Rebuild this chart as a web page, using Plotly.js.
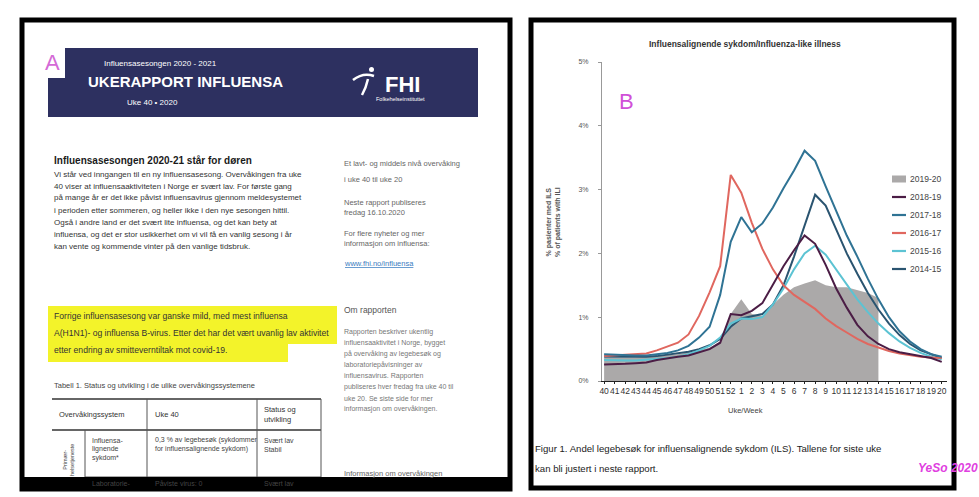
<!DOCTYPE html>
<html><head><meta charset="utf-8">
<script src="https://cdn.plot.ly/plotly-3.0.1.min.js"></script>
<style>html,body{margin:0;padding:0;background:#fff;}#chart{width:979px;height:497px;}</style>
</head><body><div id="chart"></div>
<script>
// ---------- DATA ----------
const weeks = ['40','41','42','43','44','45','46','47','48','49','50','51','52',
  '1','2','3','4','5','6','7','8','9','10','11','12','13','14','15','16','17','18','19','20'];
const seasonNames = ['2019-20','2018-19','2017-18','2016-17','2015-16','2014-15'];
const seasonColors = ['#aba9a9','#4b1d45','#2f7394','#e0675f','#5cc3d3','#2a5470'];
// % of patients with ILI, weeks 40..20
const ili2019_20 = [0.36,0.36,0.37,0.37,0.38,0.39,0.40,0.42,0.45,0.48,0.52,0.62,1.05,1.28,1.05,1.02,
  1.20,1.35,1.47,1.53,1.58,1.50,1.47,1.47,1.42,1.38,1.30];
const ili2018_19 = [0.26,0.26,0.27,0.28,0.29,0.33,0.36,0.38,0.40,0.45,0.50,0.60,1.05,1.03,1.10,1.22,
  1.50,1.80,2.05,2.28,2.15,1.82,1.45,1.15,0.88,0.70,0.58,0.50,0.45,0.42,0.38,0.36,0.30];
const ili2017_18 = [0.42,0.41,0.40,0.40,0.40,0.42,0.44,0.48,0.55,0.68,0.85,1.35,2.18,2.57,2.33,2.47,
  2.72,3.02,3.30,3.61,3.45,3.05,2.65,2.28,1.95,1.60,1.28,1.00,0.78,0.62,0.50,0.42,0.38];
const ili2016_17 = [0.39,0.40,0.41,0.42,0.43,0.48,0.54,0.60,0.73,1.02,1.39,1.80,3.23,2.95,2.48,2.07,
  1.75,1.50,1.35,1.24,1.13,0.98,0.86,0.76,0.66,0.58,0.52,0.47,0.43,0.40,0.38,0.37,0.36];
const ili2015_16 = [0.33,0.32,0.32,0.32,0.33,0.34,0.36,0.38,0.42,0.48,0.55,0.68,0.90,0.98,0.97,1.00,
  1.20,1.45,1.75,2.00,2.12,1.98,1.75,1.50,1.28,1.08,0.90,0.75,0.62,0.52,0.44,0.38,0.34];
const ili2014_15 = [0.38,0.38,0.37,0.37,0.38,0.39,0.41,0.43,0.46,0.50,0.56,0.66,0.85,0.98,1.02,1.05,
  1.20,1.50,1.95,2.45,2.92,2.75,2.38,2.00,1.68,1.38,1.12,0.90,0.72,0.58,0.48,0.42,0.36];
const seasonValues = [ili2019_20, ili2018_19, ili2017_18, ili2016_17, ili2015_16, ili2014_15];

// ---------- helpers (pixel -> paper) ----------
const W = 979, H = 497;
const px = x => x / W;
const py = y => 1 - y / H;
const FONT = 'Liberation Sans, Arial, sans-serif';

const traces = [];
// 2019-20 area
traces.push({
  x: weeks.slice(0, ili2019_20.length), y: ili2019_20, type: 'scatter', mode: 'lines',
  fill: 'tozeroy', fillcolor: seasonColors[0], line: {width: 0, color: seasonColors[0]},
  name: seasonNames[0], hoverinfo: 'skip'
});
// lines, drawn oldest first
for (let k = seasonNames.length - 1; k >= 1; k--) {
  traces.push({
    x: weeks, y: seasonValues[k], type: 'scatter', mode: 'lines',
    line: {width: 2, color: seasonColors[k]}, name: seasonNames[k]
  });
}

const shapes = [];
const annotations = [];
function rect(x0, y0, x1, y1, fill, lineColor, lw) {
  shapes.push({type: 'rect', xref: 'paper', yref: 'paper', x0: px(x0), x1: px(x1), y0: py(y1), y1: py(y0),
    fillcolor: fill || 'rgba(0,0,0,0)', line: {color: lineColor || 'rgba(0,0,0,0)', width: lw || 0}, layer: 'above'});
}
function seg(x0, y0, x1, y1, color, lw) {
  shapes.push({type: 'line', xref: 'paper', yref: 'paper', x0: px(x0), x1: px(x1), y0: py(y0), y1: py(y1),
    line: {color: color, width: lw}, layer: 'above'});
}
function txt(text, x, y, size, color, opts) {
  annotations.push(Object.assign({text: text, x: px(x), y: py(y), xref: 'paper', yref: 'paper',
    showarrow: false, xanchor: 'left', yanchor: 'middle', font: {size: size, color: color, family: FONT}}, opts || {}));
}

// ---------- PANEL A : report page ----------
rect(48, 48, 478, 117, '#2d3060');
rect(40, 46, 65, 78, '#ffffff');
txt('A', 52, 62, 22, '#d46ad6', {xanchor: 'center'});
txt('Influensasesongen 2020 - 2021', 160, 63, 8, '#ffffff', {xanchor: 'center'});
txt('<b>UKERAPPORT INFLUENSA</b>', 185, 82, 15, '#ffffff', {xanchor: 'center'});
txt('Uke 40 • 2020', 152, 102, 8, '#ffffff', {xanchor: 'center'});
txt('<b>FHI</b>', 402, 84, 22, '#ffffff', {xanchor: 'center'});
txt('Folkehelseinstituttet', 400, 99, 5.5, '#ffffff', {xanchor: 'center'});
// FHI logo swoosh
shapes.push({type: 'path', xref: 'paper', yref: 'paper', layer: 'above', line: {color: '#ffffff', width: 2.5},
  path: `M ${px(353)},${py(80)} Q ${px(363)},${py(72)} ${px(374)},${py(76)}`});
shapes.push({type: 'path', xref: 'paper', yref: 'paper', layer: 'above', line: {color: '#ffffff', width: 2.5},
  path: `M ${px(368)},${py(79)} Q ${px(366)},${py(88)} ${px(362)},${py(95)}`});
shapes.push({type: 'circle', xref: 'paper', yref: 'paper', layer: 'above', fillcolor: '#ffffff', line: {width: 0},
  x0: px(369), x1: px(374), y0: py(72), y1: py(67)});

txt('<b>Influensasesongen 2020-21 står for døren</b>', 52, 160, 10, '#1a1a1a');
const para = [
  'Vi står ved inngangen til en ny influensasesong. Overvåkingen fra uke',
  '40 viser at influensaaktiviteten i Norge er svært lav. For første gang',
  'på mange år er det ikke påvist influensavirus gjennom meldesystemet',
  'i perioden etter sommeren, og heller ikke i den nye sesongen hittil.',
  'Også i andre land er det svært lite influensa, og det kan bety at',
  'influensa, og det er stor usikkerhet om vi vil få en vanlig sesong i år',
  'kan vente og kommende vinter på den vanlige tidsbruk.'
];
para.forEach((t, i) => txt(t, 52, 174 + 12 * i, 8, '#333333'));

rect(48, 306, 337, 344, '#f3f32a');
rect(48, 343, 288, 362, '#f3f32a');
txt('Forrige influensasesong var ganske mild, med mest influensa', 52, 316, 8.6, '#333333');
txt('A(H1N1)- og influensa B-virus. Etter det har det vært uvanlig lav aktivitet', 52, 333, 8.6, '#333333');
txt('etter endring av smitteverntiltak mot covid-19.', 52, 350, 8.6, '#333333');

// sidebar
const side1 = [
  ['Et lavt- og middels nivå overvåking', 163], ['i uke 40 til uke 20', 180],
  ['Neste rapport publiseres', 202], ['fredag 16.10.2020', 212],
  ['For flere nyheter og mer', 233], ['informasjon om influensa:', 243]
];
side1.forEach(s => txt(s[0], 342, s[1], 7.5, '#666666'));
txt('<u>www.fhi.no/influensa</u>', 342, 263, 7.5, '#3a7cc0');
txt('Om rapporten', 342, 310, 8.5, '#555555');
const side2 = ['Rapporten beskriver ukentlig', 'influensaaktivitet i Norge, bygget', 'på overvåking av legebesøk og',
  'laboratoriepåvisninger av', 'influensavirus. Rapporten', 'publiseres hver fredag fra uke 40 til',
  'uke 20. Se siste side for mer', 'informasjon om overvåkingen.'];
side2.forEach((t, i) => txt(t, 342, 332 + 11 * i, 7, '#777777'));
txt('Informasjon om overvåkingen', 342, 473, 7.5, '#666666');

// table
txt('Tabell 1. Status og utvikling i de ulike overvåkingssystemene', 52, 385, 7.5, '#444444');
seg(52, 399, 321, 399, '#333333', 1.5);
seg(52, 430, 321, 430, '#333333', 1.5);
seg(85, 477, 321, 477, '#555555', 1);
seg(147, 399, 147, 490, '#555555', 1);
seg(257, 399, 257, 490, '#555555', 1);
seg(321, 399, 321, 490, '#555555', 1);
seg(85, 430, 85, 490, '#555555', 1);
txt('Overvåkingssystem', 57, 414, 7.5, '#333333');
txt('Uke 40', 153, 414, 7.5, '#333333');
txt('Status og', 262, 409, 7.5, '#333333');
txt('utvikling', 262, 419, 7.5, '#333333');
txt('Influensa-', 90, 440, 7, '#444444');
txt('lignende', 90, 449, 7, '#444444');
txt('sykdom*', 90, 458, 7, '#444444');
txt('0,3 % av legebesøk (sykdommer', 153, 440, 7, '#444444');
txt('for influensalignende sykdom)', 153, 449, 7, '#444444');
txt('Svært lav', 262, 440, 7, '#444444');
txt('Stabil', 262, 449, 7, '#444444');
txt('Primær-<br>helsetjeneste', 68, 460, 5.5, '#444444', {xanchor: 'center', textangle: -90});
txt('Laboratorie-', 90, 483, 7, '#444444');
txt('Påviste virus: 0', 153, 483, 7, '#444444');
txt('Svært lav', 262, 483, 7, '#444444');

// frames
rect(22, 477, 510, 491, '#000000');
rect(22, 20, 510, 489, null, '#000000', 5);
rect(531, 20, 954, 488, null, '#000000', 5);

// ---------- PANEL B : chart decorations ----------
txt('<b>Influensalignende sykdom/Influenza-like illness</b>', 745, 44, 8.5, '#333333', {xanchor: 'center'});
txt('B', 626, 101, 22, '#d050d8', {xanchor: 'center'});
txt('<b>% pasienter med ILS<br>% of patients with ILI</b>', 553, 222, 7, '#555555', {xanchor: 'center', textangle: -90});
txt('Uke/Week', 745, 410, 7.5, '#444444', {xanchor: 'center'});
// legend
seasonNames.forEach((n, k) => {
  const y = 179 + 18 * k;
  if (k === 0) rect(892, y - 3.5, 906, y + 3.5, seasonColors[0]);
  else seg(892, y, 906, y, seasonColors[k], 2.2);
  txt(n, 908, y, 8.5, '#444444');
});
txt('Figur 1. Andel legebesøk for influensalignende sykdom (ILS). Tallene for siste uke', 533, 448, 9.6, '#222222');
txt('kan bli justert i neste rapport.', 533, 468, 9.6, '#222222');
txt('<b><i>YeSo 2020</i></b>', 948, 468, 12, '#e040e0', {xanchor: 'center'});

const layout = {
  width: W, height: H, margin: {l: 0, r: 0, t: 0, b: 0},
  paper_bgcolor: '#ffffff', plot_bgcolor: '#ffffff', showlegend: false,
  font: {family: FONT},
  xaxis: {
    type: 'category', domain: [px(602), px(947)], range: [-0.2, 32.5],
    tickmode: 'array', tickvals: weeks, ticktext: weeks, tickangle: 0,
    tickfont: {size: 8.5, color: '#333333'}, ticks: 'outside', ticklen: 2, tickcolor: '#222222',
    showline: true, linecolor: '#222222', linewidth: 1, showgrid: false, zeroline: false, fixedrange: true
  },
  yaxis: {
    domain: [py(381), py(62)], range: [0, 5], dtick: 1, ticksuffix: '%',
    tickfont: {size: 7, color: '#555555'}, ticks: 'outside', ticklen: 3, tickcolor: '#999999',
    ticklabelstandoff: 8,
    showline: true, linecolor: '#999999', linewidth: 1, showgrid: false, zeroline: false, fixedrange: true
  },
  shapes: shapes, annotations: annotations
};
Plotly.newPlot('chart', traces, layout, {staticPlot: true, displayModeBar: false});
</script></body></html>
